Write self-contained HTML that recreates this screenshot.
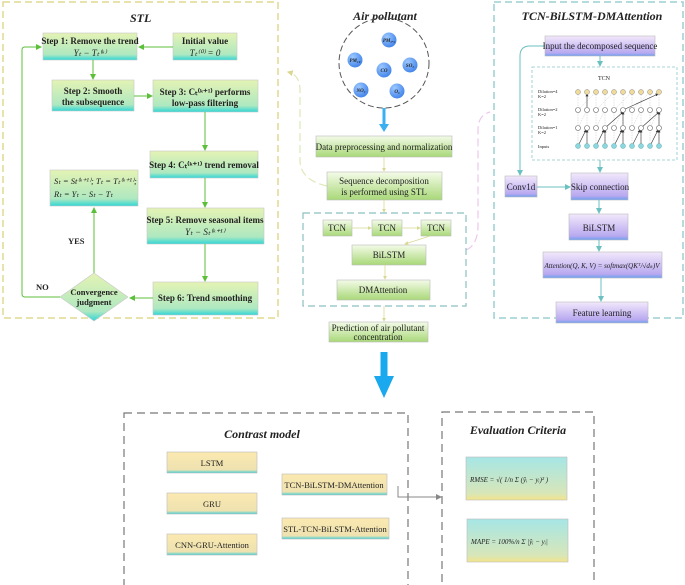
<!DOCTYPE html>
<html><head><meta charset="utf-8"><style>
html,body{margin:0;padding:0;background:#fff}
svg{display:block}
text{font-family:"Liberation Serif",serif;fill:#222}
.b{font-weight:bold}
.t{font-weight:bold;font-style:italic;font-size:12px}
</style></head><body>
<svg width="685" height="585" viewBox="0 0 685 585" xmlns="http://www.w3.org/2000/svg">
<defs>
<linearGradient id="gs" x1="0" y1="0" x2="0" y2="1"><stop offset="0" stop-color="#e4f3b4"/><stop offset="0.8" stop-color="#aee8c0"/><stop offset="1" stop-color="#2ed6d6"/></linearGradient>
<linearGradient id="gm" x1="0" y1="0" x2="0" y2="1"><stop offset="0" stop-color="#f4fbe8"/><stop offset="1" stop-color="#a8d878"/></linearGradient>
<linearGradient id="gp" x1="0" y1="0" x2="0" y2="1"><stop offset="0" stop-color="#f2e8fb"/><stop offset="0.85" stop-color="#b8a8f0"/><stop offset="1" stop-color="#6aa0ee"/></linearGradient>
<linearGradient id="gy" x1="0" y1="0" x2="0" y2="1"><stop offset="0" stop-color="#fbe9b0"/><stop offset="0.85" stop-color="#eee2b0"/><stop offset="1" stop-color="#40d0d8"/></linearGradient>
<linearGradient id="ge" x1="0" y1="0" x2="0" y2="1"><stop offset="0" stop-color="#a6e6e6"/><stop offset="0.85" stop-color="#d8e6b8"/><stop offset="1" stop-color="#f4e48a"/></linearGradient>
<radialGradient id="gc" cx="0.35" cy="0.3" r="0.8"><stop offset="0" stop-color="#9cc8ff"/><stop offset="1" stop-color="#3a7ee8"/></radialGradient>
<marker id="ag" markerWidth="6" markerHeight="6" refX="5" refY="3" orient="auto"><path d="M0,0L6,3L0,6z" fill="#5cbf3a"/></marker>
<marker id="at" markerWidth="6" markerHeight="6" refX="5" refY="3" orient="auto"><path d="M0,0L6,3L0,6z" fill="#6cc0c0"/></marker>
<marker id="ay" markerWidth="5" markerHeight="5" refX="4" refY="2.5" orient="auto"><path d="M0,0L5,2.5L0,5z" fill="#d8d890"/></marker>
<marker id="ak" markerWidth="5" markerHeight="5" refX="4" refY="2.5" orient="auto"><path d="M0,0L5,2.5L0,5z" fill="#333"/></marker>
<marker id="ar" markerWidth="6" markerHeight="6" refX="5" refY="3" orient="auto"><path d="M0,0L6,3L0,6z" fill="#888"/></marker>
</defs>

<!-- STL panel -->
<rect x="3" y="2" width="275" height="316" fill="none" stroke="#e0d890" stroke-width="1.5" stroke-dasharray="7,4"/>
<text x="130" y="22" class="t" font-size="13">STL</text>
<g stroke="#c8c8c8" stroke-width="0.6">
<rect x="43" y="33" width="94" height="27" fill="url(#gs)"/>
<rect x="173" y="33" width="64" height="27" fill="url(#gs)"/>
<rect x="52" y="80" width="82" height="31" fill="url(#gs)"/>
<rect x="153" y="80" width="105" height="32" fill="url(#gs)"/>
<rect x="150" y="151" width="108" height="27" fill="url(#gs)"/>
<rect x="147" y="208" width="117" height="36" fill="url(#gs)"/>
<rect x="50" y="170" width="88" height="36" fill="url(#gs)"/>
<rect x="153" y="282" width="105" height="33" fill="url(#gs)"/>
<path d="M94,273L128,297L94,321L60,297Z" fill="url(#gs)"/>
</g>
<g font-size="9">
<text x="90" y="44" text-anchor="middle" class="b">Step 1: Remove the trend</text>
<text x="90" y="56" text-anchor="middle" font-style="italic">Yₜ − Tₜ⁽ᵏ⁾</text>
<text x="205" y="44" text-anchor="middle" class="b">Initial value</text>
<text x="205" y="56" text-anchor="middle" font-style="italic">Tₜ⁽⁰⁾ = 0</text>
<text x="93" y="94" text-anchor="middle" class="b">Step 2: Smooth</text>
<text x="93" y="105" text-anchor="middle" class="b">the subsequence</text>
<text x="205" y="95" text-anchor="middle" class="b">Step 3: Cₜ⁽ᵏ⁺¹⁾ performs</text>
<text x="205" y="106" text-anchor="middle" class="b">low-pass filtering</text>
<text x="204" y="168" text-anchor="middle" class="b">Step 4: Cₜ⁽ᵏ⁺¹⁾ trend removal</text>
<text x="205" y="223" text-anchor="middle" class="b">Step 5: Remove seasonal items</text>
<text x="205" y="235" text-anchor="middle" font-style="italic">Yₜ − Sₜ⁽ᵏ⁺¹⁾</text>
<text x="54" y="184" font-style="italic" font-size="8.5">Sₜ = St⁽ᵏ⁺¹⁾; Tₜ = Tₜ⁽ᵏ⁺¹⁾;</text>
<text x="54" y="197" font-style="italic" font-size="8.5">Rₜ = Yₜ − Sₜ − Tₜ</text>
<text x="205" y="301" text-anchor="middle" class="b">Step 6: Trend smoothing</text>
<text x="94" y="295" text-anchor="middle" class="b" font-size="8.5">Convergence</text>
<text x="94" y="305" text-anchor="middle" class="b" font-size="8.5">judgment</text>
<text x="36" y="290" class="b" font-size="8.5">NO</text>
<text x="68" y="244" class="b" font-size="8.5">YES</text>
</g>
<g stroke="#5cbf3a" stroke-width="1" fill="none">
<line x1="173" y1="47" x2="139" y2="47" marker-end="url(#ag)"/>
<line x1="93" y1="60" x2="93" y2="79" marker-end="url(#ag)"/>
<line x1="134" y1="96" x2="152" y2="96" marker-end="url(#ag)"/>
<line x1="205" y1="112" x2="205" y2="150" marker-end="url(#ag)"/>
<line x1="205" y1="178" x2="205" y2="207" marker-end="url(#ag)"/>
<line x1="205" y1="244" x2="205" y2="281" marker-end="url(#ag)"/>
<line x1="153" y1="298" x2="130" y2="298" marker-end="url(#ag)"/>
<line x1="94" y1="273" x2="94" y2="208" marker-end="url(#ag)"/>
<path d="M60,297H25Q22,297 22,294V50Q22,47 25,47H41" marker-end="url(#ag)"/>
</g>

<!-- connectors to panels -->
<path d="M327,186Q300,180 300,160V90Q300,75 288,72" fill="none" stroke="#dde8b8" stroke-width="1.2" stroke-dasharray="8,4" marker-end="url(#ay)"/>
<path d="M466,250Q478,245 478,225V130Q478,115 490,112" fill="none" stroke="#ecc8ec" stroke-width="1.2" stroke-dasharray="8,4"/>

<!-- middle -->
<text x="385" y="20" class="t" text-anchor="middle" font-size="12.5">Air pollutant</text>
<circle cx="384" cy="63" r="45" fill="none" stroke="#555" stroke-dasharray="6,3"/>
<g fill="url(#gc)">
<circle cx="389" cy="40" r="7.5"/><circle cx="355" cy="60" r="7.5"/><circle cx="384" cy="70" r="7.5"/>
<circle cx="410" cy="65" r="7.5"/><circle cx="361" cy="90" r="7.5"/><circle cx="397" cy="91" r="7.5"/>
</g>
<g font-size="5" font-style="italic" text-anchor="middle" font-weight="bold">
<text x="389" y="42">PM₂.₅</text><text x="355" y="62">PM₁₀</text><text x="384" y="72">CO</text>
<text x="410" y="67">SO₂</text><text x="361" y="92">NO₂</text><text x="397" y="93">O₃</text>
</g>
<line x1="384" y1="108" x2="384" y2="126" stroke="#3ab0f0" stroke-width="3"/>
<path d="M379,124L389,124L384,132Z" fill="#3ab0f0"/>
<g stroke="#bbb" stroke-width="0.6">
<rect x="316" y="136" width="136" height="21" fill="url(#gm)"/>
<rect x="327" y="172" width="115" height="28" fill="url(#gm)"/>
<rect x="323" y="220" width="29" height="16" fill="url(#gm)"/>
<rect x="372" y="220" width="30" height="16" fill="url(#gm)"/>
<rect x="421" y="220" width="30" height="16" fill="url(#gm)"/>
<rect x="352" y="245" width="74" height="20" fill="url(#gm)"/>
<rect x="337" y="280" width="93" height="20" fill="url(#gm)"/>
<rect x="329" y="322" width="99" height="20" fill="url(#gm)"/>
</g>
<rect x="303" y="213" width="163" height="93" fill="none" stroke="#8cc0c0" stroke-width="1.2" stroke-dasharray="7,4"/>
<g stroke="#d8d890" stroke-width="0.8">
<line x1="384" y1="157" x2="384" y2="171" marker-end="url(#ay)"/>
<line x1="384" y1="200" x2="384" y2="212" marker-end="url(#ay)"/>
<line x1="352" y1="228" x2="371" y2="228" marker-end="url(#ay)"/>
<line x1="402" y1="228" x2="420" y2="228" marker-end="url(#ay)"/>
<line x1="430" y1="236" x2="405" y2="244" marker-end="url(#ay)"/>
<line x1="385" y1="265" x2="385" y2="279" marker-end="url(#ay)"/>
<line x1="384" y1="306" x2="384" y2="321" marker-end="url(#ay)"/>
</g>
<g font-size="9" text-anchor="middle">
<text x="384" y="150">Data preprocessing and normalization</text>
<text x="384" y="184">Sequence decomposition</text>
<text x="384" y="195">is performed using STL</text>
<text x="337" y="231">TCN</text><text x="387" y="231">TCN</text><text x="436" y="231">TCN</text>
<text x="389" y="258">BiLSTM</text>
<text x="383" y="293">DMAttention</text>
<text x="378" y="331">Prediction of air pollutant</text>
<text x="378" y="340">concentration</text>
</g>
<line x1="384" y1="352" x2="384" y2="378" stroke="#1aa8ee" stroke-width="7"/>
<path d="M374,376L394,376L384,398Z" fill="#1aa8ee"/>

<!-- right panel -->
<rect x="494" y="2" width="189" height="316" fill="none" stroke="#9cd0d0" stroke-width="1.5" stroke-dasharray="7,4"/>
<text x="592" y="20" class="t" text-anchor="middle" font-size="12">TCN-BiLSTM-DMAttention</text>
<g stroke="#bbb" stroke-width="0.6">
<rect x="545" y="36" width="110" height="20" fill="url(#gp)"/>
<rect x="505" y="176" width="32" height="21" fill="url(#gp)"/>
<rect x="571" y="173" width="57" height="27" fill="url(#gp)"/>
<rect x="569" y="214" width="59" height="26" fill="url(#gp)"/>
<rect x="543" y="252" width="119" height="26" fill="url(#gp)"/>
<rect x="556" y="302" width="92" height="21" fill="url(#gp)"/>
</g>
<rect x="532" y="67" width="145" height="93" fill="none" stroke="#8cc8c8" stroke-width="0.8" stroke-dasharray="3,2"/>
<g stroke="#6cc0c0" stroke-width="1" fill="none">
<line x1="600" y1="56" x2="600" y2="66" marker-end="url(#at)"/>
<line x1="600" y1="160" x2="600" y2="172" marker-end="url(#at)"/>
<line x1="537" y1="187" x2="570" y2="187" marker-end="url(#at)"/>
<line x1="599" y1="200" x2="599" y2="213" marker-end="url(#at)"/>
<line x1="599" y1="240" x2="599" y2="251" marker-end="url(#at)"/>
<line x1="601" y1="278" x2="601" y2="301" marker-end="url(#at)"/>
<path d="M545,46H530Q520,46 520,56V175" marker-end="url(#at)"/>
</g>
<g font-size="9" text-anchor="middle">
<text x="600" y="49">Input the decomposed sequence</text>
<text x="521" y="190">Conv1d</text>
<text x="600" y="190">Skip connection</text>
<text x="599" y="231">BiLSTM</text>
<text x="602" y="268" font-size="7" font-style="italic">Attention(Q, K, V) = softmax(QKᵀ/√dₖ)V</text>
<text x="602" y="316">Feature learning</text>
</g>
<!-- TCN inner -->
<text x="604" y="80" font-size="6" text-anchor="middle">TCN</text>
<g font-size="4.5">
<text x="538" y="93">Dilation=4</text><text x="538" y="98">K=2</text>
<text x="538" y="111">Dilation=2</text><text x="538" y="116">K=2</text>
<text x="538" y="129">Dilation=1</text><text x="538" y="134">K=2</text>
<text x="538" y="148">Inputs</text>
</g>
<g stroke="#bbb" stroke-width="0.4" stroke-dasharray="1.5,1">
<path d="M578,146V92M587,146V92M596,146V92M605,146V92M614,146V92M623,146V92M632,146V92M641,146V92M650,146V92M659,146V92"/>
<path d="M578,128L587,110M596,128L605,110M614,128L623,110M632,128L641,110M650,128L659,110M578,110L596,92M596,110L614,92M614,110L632,92M632,110L650,92"/>
</g>
<g stroke="#333" stroke-width="0.6" marker-end="url(#ak)">
<line x1="587" y1="146" x2="587" y2="130"/><line x1="578" y1="146" x2="586" y2="130"/>
<line x1="605" y1="146" x2="605" y2="130"/><line x1="596" y1="146" x2="604" y2="130"/>
<line x1="623" y1="146" x2="623" y2="130"/><line x1="614" y1="146" x2="622" y2="130"/>
<line x1="641" y1="146" x2="641" y2="130"/><line x1="632" y1="146" x2="640" y2="130"/>
<line x1="659" y1="146" x2="659" y2="130"/><line x1="650" y1="146" x2="658" y2="130"/>
<line x1="605" y1="128" x2="623" y2="112"/><line x1="623" y1="128" x2="623" y2="112"/>
<line x1="641" y1="128" x2="659" y2="112"/><line x1="659" y1="128" x2="659" y2="112"/>
<line x1="587" y1="110" x2="587" y2="94"/><line x1="623" y1="110" x2="658" y2="94"/>
</g>
<g fill="#fff" stroke="#666" stroke-width="0.6">
<circle cx="578" cy="128" r="2.5"/><circle cx="587" cy="128" r="2.5"/><circle cx="596" cy="128" r="2.5"/><circle cx="605" cy="128" r="2.5"/><circle cx="614" cy="128" r="2.5"/><circle cx="623" cy="128" r="2.5"/><circle cx="632" cy="128" r="2.5"/><circle cx="641" cy="128" r="2.5"/><circle cx="650" cy="128" r="2.5"/><circle cx="659" cy="128" r="2.5"/>
<circle cx="578" cy="110" r="2.5"/><circle cx="587" cy="110" r="2.5"/><circle cx="596" cy="110" r="2.5"/><circle cx="605" cy="110" r="2.5"/><circle cx="614" cy="110" r="2.5"/><circle cx="623" cy="110" r="2.5"/><circle cx="632" cy="110" r="2.5"/><circle cx="641" cy="110" r="2.5"/><circle cx="650" cy="110" r="2.5"/><circle cx="659" cy="110" r="2.5"/>
</g>
<g fill="#f0dc98" stroke="#888" stroke-width="0.5">
<circle cx="578" cy="92" r="2.5"/><circle cx="587" cy="92" r="2.5"/><circle cx="596" cy="92" r="2.5"/><circle cx="605" cy="92" r="2.5"/><circle cx="614" cy="92" r="2.5"/><circle cx="623" cy="92" r="2.5"/><circle cx="632" cy="92" r="2.5"/><circle cx="641" cy="92" r="2.5"/><circle cx="650" cy="92" r="2.5"/><circle cx="659" cy="92" r="2.5"/>
</g>
<g fill="#8cd8e0" stroke="#6aa" stroke-width="0.5">
<circle cx="578" cy="146" r="2.5"/><circle cx="587" cy="146" r="2.5"/><circle cx="596" cy="146" r="2.5"/><circle cx="605" cy="146" r="2.5"/><circle cx="614" cy="146" r="2.5"/><circle cx="623" cy="146" r="2.5"/><circle cx="632" cy="146" r="2.5"/><circle cx="641" cy="146" r="2.5"/><circle cx="650" cy="146" r="2.5"/><circle cx="659" cy="146" r="2.5"/>
</g>

<!-- bottom -->
<rect x="124" y="413" width="284" height="180" fill="none" stroke="#777" stroke-width="1.2" stroke-dasharray="8,5"/>
<rect x="442" y="412" width="152" height="180" fill="none" stroke="#777" stroke-width="1.2" stroke-dasharray="8,5"/>
<text x="262" y="438" class="t" text-anchor="middle">Contrast model</text>
<text x="518" y="434" class="t" text-anchor="middle">Evaluation Criteria</text>
<g stroke="#bbb" stroke-width="0.6">
<rect x="167" y="452" width="90" height="21" fill="url(#gy)"/>
<rect x="167" y="493" width="90" height="21" fill="url(#gy)"/>
<rect x="167" y="534" width="90" height="21" fill="url(#gy)"/>
<rect x="282" y="474" width="105" height="21" fill="url(#gy)"/>
<rect x="282" y="518" width="107" height="21" fill="url(#gy)"/>
<rect x="466" y="457" width="101" height="43" fill="url(#ge)"/>
<rect x="467" y="519" width="101" height="43" fill="url(#ge)"/>
</g>
<g font-size="8.5" text-anchor="middle">
<text x="212" y="466">LSTM</text>
<text x="212" y="507">GRU</text>
<text x="212" y="548">CNN-GRU-Attention</text>
<text x="334" y="488">TCN-BiLSTM-DMAttention</text>
<text x="335" y="532">STL-TCN-BiLSTM-Attention</text>
</g>
<g font-size="7" font-style="italic">
<text x="470" y="482">RMSE = √( 1/n Σ (ŷᵢ − yᵢ)² )</text>
<text x="471" y="544">MAPE = 100%/n Σ |ŷᵢ − yᵢ|</text>
</g>
<path d="M398,486V497H441" fill="none" stroke="#888" stroke-width="1" marker-end="url(#ar)"/>
</svg>
</body></html>
